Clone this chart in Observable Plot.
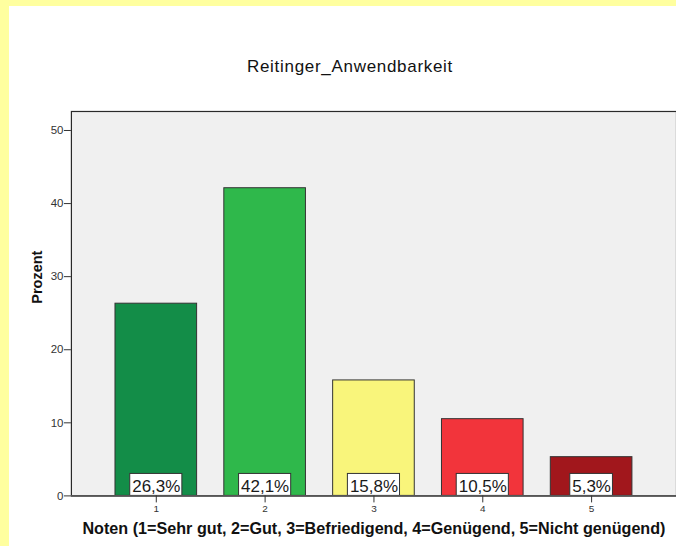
<!DOCTYPE html>
<html><head><meta charset="utf-8">
<script src="https://cdn.jsdelivr.net/npm/d3@7"></script>
<script src="https://cdn.jsdelivr.net/npm/@observablehq/plot@0.6"></script>
<style>
html,body{margin:0;padding:0;width:676px;height:546px;overflow:hidden;background:#ffff9f;font-family:"Liberation Sans",Arial,sans-serif;}
#panel{position:absolute;left:9px;top:6px;width:667px;height:540px;background:#fff;overflow:hidden;}
#title{position:absolute;left:41px;width:600px;top:51px;line-height:20px;font-size:17px;letter-spacing:0.7px;text-align:center;color:#111;}
#chart{position:absolute;left:0;top:95px;}
</style>
</head><body>
<div id="panel"><div id="title"></div><div id="chart"></div></div>
<script>
const grades = ["1", "2", "3", "4", "5"];
const percents = [26.3, 42.1, 15.8, 10.5, 5.3];
const barColors = ["#138d48", "#2fb84b", "#f9f57b", "#f2343b", "#a1171c"];
const yTicks = [0, 10, 20, 30, 40, 50];
const titleText = "Reitinger_Anwendbarkeit";
const yLabel = "Prozent";
const xLabel = "Noten (1=Sehr gut, 2=Gut, 3=Befriedigend, 4=Genügend, 5=Nicht genügend)";

const FONT = "Liberation Sans, Arial, sans-serif";
const labelSize = 17;
const data = grades.map((g, i) => ({
  grade: g,
  pct: percents[i],
  color: barColors[i],
  label: percents[i].toFixed(1).replace(".", ",") + "%"
}));

document.getElementById("title").textContent = titleText;

const ctx = document.createElement("canvas").getContext("2d");
ctx.font = `${labelSize}px Liberation Sans`;

function baseOptions(extra) {
  return {
    width: 668,
    height: 445,
    marginLeft: 62,
    marginRight: 0,
    marginTop: 10,
    marginBottom: 50,
    style: {fontFamily: FONT, background: "transparent", overflow: "visible"},
    x: {domain: grades, paddingInner: 0.25, paddingOuter: 0.405, round: false, label: null},
    y: {domain: [0, 52.6], ticks: yTicks, label: null},
    marks: [
      Plot.frame({fill: "#f0f0f0", stroke: "#2a2a2a", strokeWidth: 1.2}),
      Plot.barY(data, {x: "grade", y: "pct", fill: "color", stroke: "#333", strokeWidth: 1}),
      ...extra,
      Plot.ruleY([0], {stroke: "#555", strokeWidth: 1.6}),
      Plot.axisX({tickSize: 7, tickPadding: 2, fontSize: 10, fill: "#333", stroke: "#333", label: null}),
      Plot.axisY({ticks: yTicks, tickSize: 7, tickPadding: 1, fontSize: 11.5, fill: "#333", stroke: "#333", label: null}),
      Plot.text([yLabel], {frameAnchor: "left", dx: -34, rotate: -90, text: d => d, fontSize: 14.5, fontWeight: "bold", fill: "#111"}),
      Plot.text([xLabel], {frameAnchor: "bottom", dy: 38, text: d => d, fontSize: 16.2, fontWeight: "bold", fill: "#111"})
    ]
  };
}

const probe = Plot.plot(baseOptions([]));
const bw = probe.scale("x").bandwidth;

const boxMarks = data.map(d => {
  const w = ctx.measureText(d.label).width + 4;
  const inset = (bw - w) / 2;
  return Plot.barY([d], {x: "grade", y1: () => 0, y2: () => 0, insetTop: -22, insetLeft: inset, insetRight: inset, fill: "#fff", stroke: "#333", strokeWidth: 1});
});
const labelMark = Plot.text(data, {x: "grade", y: () => 0, text: "label", dy: -9, fontSize: labelSize, fill: "#1a1a1a"});

const chart = Plot.plot(baseOptions([...boxMarks, labelMark]));
document.getElementById("chart").appendChild(chart);
</script>
</body></html>
